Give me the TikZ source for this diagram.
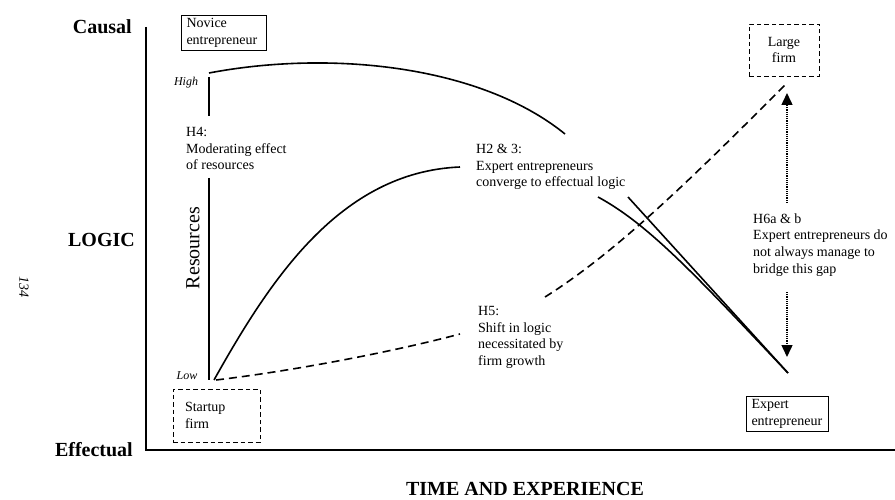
\documentclass[tikz,border=0pt]{standalone}
\usepackage{fontspec}
\setmainfont{Liberation Serif}
\usetikzlibrary{arrows.meta}
\newcommand\figbody{\fontsize{14}{16.8}\selectfont}
\newcommand\figbig{\fontsize{20}{24}\selectfont}
\begin{document}
\begin{tikzpicture}[x=1pt,y=-1pt,
  txt/.style={font=\figbody, align=left, inner sep=0pt, anchor=west},
  axislabel/.style={font=\figbig\bfseries, inner sep=0pt},
  tag/.style={font=\fontsize{12}{14}\selectfont\itshape, inner sep=0pt},
  solidbox/.style={draw, line width=0.9pt, font=\figbody, align=left, inner ysep=3pt},
  dashbox/.style={draw, line width=0.9pt, dash pattern=on 4.5pt off 3pt, font=\figbody, inner ysep=3pt},
  axis/.style={line width=1.9pt},
  raxis/.style={line width=1.1pt},
  curve/.style={line width=1.6pt},
  dashcurve/.style={line width=1.6pt, dash pattern=on 8pt off 5pt},
  gap/.style={line width=1.5pt, dash pattern=on 1.1pt off 1.1pt,
    -{Triangle[width=11pt,length=12pt]}}]
\useasboundingbox (0,0) rectangle (895,500);

% main axes
\coordinate (ytop) at (146,27);
\coordinate (O) at (146,450);
\coordinate (xend) at (895,450);
\draw[axis] (ytop) -- (O) -- (xend);

\node[axislabel, anchor=east] (causal) at (132,27) {Causal};
\node[axislabel, anchor=east] (logic) at (135,240) {LOGIC};
\node[axislabel, anchor=east] (effectual) at (133,450) {Effectual};
\node[axislabel] (time) at (525,489) {TIME AND EXPERIENCE};
\node[font=\figbody\itshape, rotate=-90, inner sep=0pt] (page) at (24,287) {134};

% resources scale
\coordinate (rHiTop) at (209,77);
\coordinate (rHiBot) at (209,116);
\coordinate (rLoTop) at (209,178);
\coordinate (rLoBot) at (209,380);
\draw[raxis] (rHiTop) -- (rHiBot);
\draw[raxis] (rLoTop) -- (rLoBot);
\node[tag] (high) at (186,83) {High};
\node[tag] (low) at (187,376) {Low};
\node[font=\figbig, rotate=90, inner sep=0pt] (res) at (193,248) {Resources};

% boxes
\node[solidbox, text width=74pt, inner xsep=5.5pt] (novice) at (223.5,33) {Novice\\entrepreneur};
\node[dashbox, align=center, minimum width=70pt, minimum height=52pt] (large) at (784,50) {Large\\firm};
\node[dashbox, align=left, text width=63pt, inner xsep=12pt, minimum height=53pt] (startup) at (216.5,415.5) {Startup\\firm};
\node[solidbox, text width=71pt, inner xsep=5.5pt] (expert) at (787,414) {Expert\\entrepreneur};

% hypothesis labels
\node[txt] (h4) at (186,148.5) {H4:\\Moderating effect\\of resources};
\node[txt] (h23) at (476,167) {H2 \& 3:\\Expert entrepreneurs\\converge to effectual logic};
\node[txt] (h5) at (478,337.5) {H5:\\Shift in logic\\necessitated by\\firm growth};
\node[txt] (h6) at (753,245) {H6a \& b\\Expert entrepreneurs do\\not always manage to\\bridge this gap};

% high-resource path
\coordinate (hiA) at (209,73);
\coordinate (hiB) at (565,134);
\coordinate (hiC) at (628,197);
\coordinate (meet) at (788,373);
\draw[curve] (hiA) .. controls (330,50) and (480,65) .. (hiB);
\draw[curve] (hiC) -- (meet);

% low-resource path
\coordinate (loA) at (214,380);
\coordinate (loB) at (460,167);
\coordinate (loC) at (598,197);
\draw[curve] (loA) .. controls (270,280) and (340,172) .. (loB);
\draw[curve] (loC) .. controls (650,225) and (700,280) .. (meet);

% firm growth path
\coordinate (dA) at (216,380);
\coordinate (dB) at (460,334);
\coordinate (dC) at (545,297);
\coordinate (dD) at (787,83);
\draw[dashcurve] (dA) .. controls (300,370) and (400,350) .. (dB);
\draw[dashcurve] (dC) .. controls (620,250) and (700,170) .. (dD);

% the gap between expert and large firm
\coordinate (gTopA) at (787,203);
\coordinate (gTopB) at (787,93);
\coordinate (gBotA) at (787,292);
\coordinate (gBotB) at (787,357);
\draw[gap] (gTopA) -- (gTopB);
\draw[gap] (gBotA) -- (gBotB);
\end{tikzpicture}
\end{document}
